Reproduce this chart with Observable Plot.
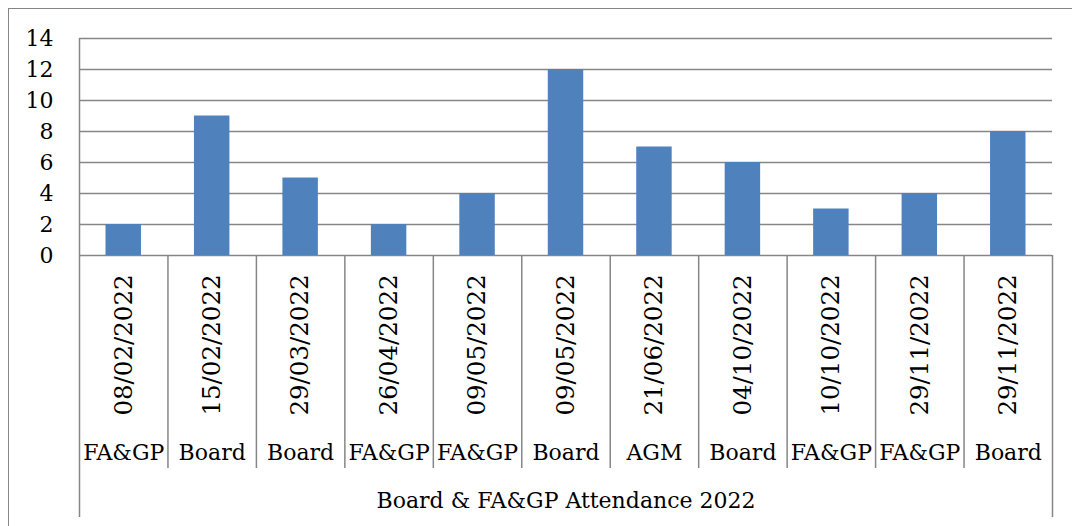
<!DOCTYPE html>
<html><head><meta charset="utf-8">
<script src="https://cdn.jsdelivr.net/npm/d3@7"></script>
<script src="https://cdn.jsdelivr.net/npm/@observablehq/plot@0.6"></script>
<style>
html,body{margin:0;padding:0;background:#fff;overflow:hidden;width:1072px;height:526px}
#border{position:absolute;left:8px;top:8px;width:1080px;height:560px;border:1.5px solid #868686;box-sizing:border-box}
#chart{position:absolute;left:0;top:0}
</style></head><body>
<div id="border"></div><div id="chart"></div>
<script>
const dates = ["08/02/2022","15/02/2022","29/03/2022","26/04/2022","09/05/2022","09/05/2022","21/06/2022","04/10/2022","10/10/2022","29/11/2022","29/11/2022"];
const meetingTypes = ["FA&GP","Board","Board","FA&GP","FA&GP","Board","AGM","Board","FA&GP","FA&GP","Board"];
const attendance = [2,9,5,2,4,12,7,6,3,4,8];
const yTicks = [0,2,4,6,8,10,12,14];
const chartTitle = "Board & FA&GP Attendance 2022";

const rows = dates.map((d,i)=>({i, date:d, type:meetingTypes[i], value:attendance[i]}));
const n = dates.length;
const grey = "#868686";
const plot = Plot.plot({
  width:1072, height:526, marginLeft:79, marginRight:20, marginTop:38, marginBottom:271,
  style:{fontFamily:"DejaVu Serif", fontSize:"22px", color:"#000", background:"transparent", overflow:"visible"},
  x:{type:"linear", domain:[0, n], axis:null},
  y:{domain:[0,14], axis:null},
  marks:[
    Plot.ruleY(yTicks, {stroke:grey, strokeWidth:1.5}),
    Plot.rectY(rows, {x1:"i", x2:d=>d.i+1, y:"value", fill:"#4F81BD", insetLeft:26.5, insetRight:26.5}),
    Plot.axisY(yTicks, {tickSize:0, tickPadding:26, fontSize:22, label:null, fill:"#000"}),
    Plot.ruleX(d3.range(1, n), {stroke:grey, strokeWidth:1.5, insetTop:217, insetBottom:-213}),
    Plot.ruleX([0], {stroke:grey, strokeWidth:1.5, insetBottom:-262}),
    Plot.ruleX([n], {stroke:grey, strokeWidth:1.5, insetTop:217, insetBottom:-262}),
    Plot.text(rows, {x:d=>d.i+0.5, text:"date", rotate:-90, frameAnchor:"bottom", lineAnchor:"middle", dy:89.5, fontSize:24.5, fill:"#000"}),
    Plot.text(rows, {x:d=>d.i+0.5, text:"type", frameAnchor:"bottom", lineAnchor:"middle", dy:197, fontSize:22, fill:"#000"}),
    Plot.text([chartTitle], {x:[n/2], text:d=>d, frameAnchor:"bottom", lineAnchor:"middle", dy:245, fontSize:22, fill:"#000"})
  ]
});
document.getElementById("chart").appendChild(plot);
</script>
</body></html>
